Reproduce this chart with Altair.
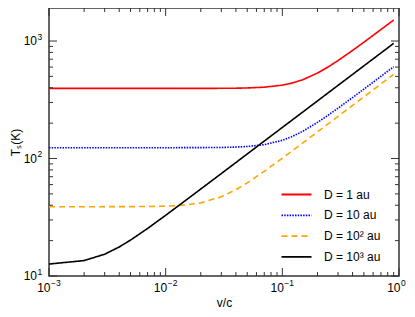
import altair as alt
import pandas as pd

# ---- data ----
v_over_c = [0.001, 0.002, 0.003, 0.004, 0.005, 0.007, 0.01, 0.015, 0.02, 0.03, 0.04, 0.05,
            0.07, 0.1, 0.12, 0.15, 0.2, 0.25, 0.3, 0.4, 0.5, 0.6, 0.7, 0.8, 0.9]
T_1au = [395, 395, 395, 395, 395, 395, 395, 395.1, 395.2, 395.8, 396.8, 398.6,
         404.5, 421.1, 437.4, 468.7, 533.6, 606.3, 681.6, 831.5, 976.9, 1116.8, 1251.9, 1382.6, 1509.6]
T_10au = [123.6, 123.6, 123.6, 123.6, 123.6, 123.6, 123.6, 123.7, 123.8, 124.2, 125.1, 126.5,
          131.2, 142.8, 153.0, 170.7, 202.8, 235.6, 268.0, 330.3, 389.5, 446.1, 500.5, 553.1, 604.0]
T_100au = [38.9, 38.9, 38.91, 38.93, 38.95, 39.05, 39.32, 40.27, 41.93, 47.28, 54.3, 62.05,
           77.83, 100.6, 115.1, 135.9, 168.4, 199.0, 228.2, 283.1, 334.6, 383.7, 430.7, 476.0, 520.0]
T_1000au = [12.64, 13.53, 15.33, 17.67, 20.22, 25.39, 32.86, 44.37, 55.0, 74.5, 92.4, 109.3,
            140.7, 183.8, 210.7, 249.1, 309.1, 365.4, 419.0, 519.8, 614.5, 704.6, 791.0, 874.3, 955.0]

series_names = ["D = 1 au", "D = 10 au", "D = 10² au", "D = 10³ au"]
series_colors = ["#ff0000", "#0000ff", "#ffa500", "#000000"]
series_dashes = [[1, 0], [1.5, 1.2], [6, 4], [1, 0]]

x_major = [0.001, 0.01, 0.1, 1]
x_exponents = ["−3", "−2", "−1", "0"]
y_major = [10, 100, 1000]
y_exponents = ["1", "2", "3"]

rows = []
for name, vals in zip(series_names, [T_1au, T_10au, T_100au, T_1000au]):
    for x, t in zip(v_over_c, vals):
        rows.append({"v": x, "T": t, "series": name})
df = pd.DataFrame(rows)

x_minor = [m * e for e in x_major[:-1] for m in range(2, 10)]
y_minor = [m * e for e in y_major for m in range(2, 10) if m * e < 1910]

W, H = 350, 268
FONT = "Liberation Sans"
xscale = alt.Scale(type="log", domain=[0.001, 1])
yscale = alt.Scale(type="log", domain=[10, 1910])

x_axis = alt.Axis(
    values=x_major, labels=False, ticks=False, domain=False, grid=False,
    title="v/c", titleFont=FONT, titleFontSize=12, titleFontWeight="normal",
    titlePadding=21, titleColor="#000")
y_axis = alt.Axis(
    values=y_major, labels=False, ticks=False, domain=False, grid=False,
    title="Tₛ(K)", titleFont=FONT, titleFontSize=12, titleFontWeight="normal",
    titlePadding=27, titleColor="#000")

legend = alt.Legend(
    title=None, orient="none", legendX=236.5, legendY=175.5,
    symbolType="M-1.5,0L1.5,0", symbolSize=400, symbolStrokeWidth=1.8,
    labelFont=FONT, labelFontSize=12, labelOffset=16.5, rowPadding=3.8, padding=0,
    labelColor="#000",
)

lines = alt.Chart(df).mark_line(strokeWidth=1.6, clip=True).encode(
    x=alt.X("v:Q", scale=xscale, axis=x_axis),
    y=alt.Y("T:Q", scale=yscale, axis=y_axis),
    color=alt.Color("series:N", scale=alt.Scale(domain=series_names, range=series_colors), legend=legend),
    strokeDash=alt.StrokeDash("series:N", scale=alt.Scale(domain=series_names, range=series_dashes), legend=legend),
)


def x_ticks(vals, L):
    d = pd.DataFrame({"v": vals})
    base = alt.Chart(d).mark_rule(color="#333", strokeWidth=1)
    bot = base.encode(x=alt.X("v:Q", scale=xscale, axis=x_axis), y=alt.value(H), y2=alt.value(H - L))
    top = base.encode(x=alt.X("v:Q", scale=xscale, axis=x_axis), y=alt.value(0), y2=alt.value(L))
    return [bot, top]


def y_ticks(vals, L):
    d = pd.DataFrame({"T": vals})
    base = alt.Chart(d).mark_rule(color="#333", strokeWidth=1)
    left = base.encode(y=alt.Y("T:Q", scale=yscale, axis=y_axis), x=alt.value(0), x2=alt.value(L))
    right = base.encode(y=alt.Y("T:Q", scale=yscale, axis=y_axis), x=alt.value(W), x2=alt.value(W - L))
    return [left, right]


# tick labels "10" with superscript exponents
xlab_df = pd.DataFrame({"v": x_major, "base": ["10"] * len(x_major), "exp": x_exponents})
ylab_df = pd.DataFrame({"T": y_major, "base": ["10"] * len(y_major), "exp": y_exponents})

x_base = alt.Chart(xlab_df).mark_text(align="right", baseline="middle", dx=1.5, fontSize=12,
                                      font=FONT, color="#000").encode(
    x=alt.X("v:Q", scale=xscale, axis=x_axis), y=alt.value(H + 11.5), text="base:N")
x_exp = alt.Chart(xlab_df).mark_text(align="left", baseline="middle", dx=2, dy=-4.5, fontSize=8.5,
                                     font=FONT, color="#000").encode(
    x=alt.X("v:Q", scale=xscale, axis=x_axis), y=alt.value(H + 11.5), text="exp:N")
y_base = alt.Chart(ylab_df).mark_text(align="right", baseline="middle", fontSize=12,
                                      font=FONT, color="#000").encode(
    y=alt.Y("T:Q", scale=yscale, axis=y_axis), x=alt.value(-12), text="base:N")
y_exp = alt.Chart(ylab_df).mark_text(align="left", baseline="middle", dx=0.5, dy=-4.5, fontSize=8.5,
                                     font=FONT, color="#000").encode(
    y=alt.Y("T:Q", scale=yscale, axis=y_axis), x=alt.value(-12), text="exp:N")

layers = ([lines] + x_ticks(x_major, 8) + x_ticks(x_minor, 4) + y_ticks(y_major, 8)
          + y_ticks(y_minor, 4) + [x_base, x_exp, y_base, y_exp])

chart = alt.layer(*layers).properties(
    width=W, height=H,
    autosize=alt.AutoSizeParams(type="none"),
    padding={"left": 41, "top": 0, "right": 8, "bottom": 33},
).configure_view(stroke="#333", strokeWidth=1.5)

chart.save("out.html", embed_options={"renderer": "svg", "actions": False})
